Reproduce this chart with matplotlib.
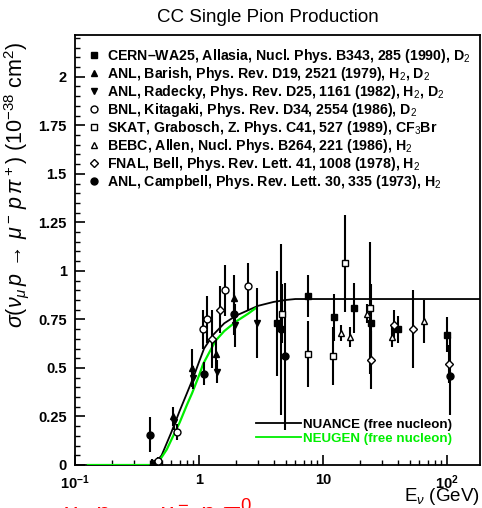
import numpy as np
import matplotlib
matplotlib.use("Agg")
import matplotlib.pyplot as plt
from matplotlib.lines import Line2D
from matplotlib.ticker import FixedLocator, NullFormatter

plt.rcParams['font.family'] = ['Liberation Sans', 'DejaVu Sans']
plt.rcParams['mathtext.fontset'] = 'custom'
plt.rcParams['mathtext.rm'] = 'Liberation Sans'
plt.rcParams['mathtext.it'] = 'Liberation Sans:italic'
plt.rcParams['mathtext.bf'] = 'Liberation Sans:bold'

# ---------------- data ----------------
cern_E = [4.3, 7.6, 12.2, 17.7, 24.6, 40.0, 100.0]
cern_y = [0.73, 0.87, 0.76, 0.81, 0.73, 0.70, 0.67]
cern_e = [0.27, 0.11, 0.12, 0.13, 0.20, 0.07, 0.09]

barish_E = [0.42, 0.62, 0.88, 1.38, 1.90]
barish_y = [0.01, 0.25, 0.50, 0.57, 0.86]
barish_e = [0.02, 0.05, 0.10, 0.08, 0.12]

radecky_E = [0.45, 0.63, 0.89, 1.40, 1.95, 2.96]
radecky_y = [0.01, 0.22, 0.45, 0.48, 0.72, 0.73]
radecky_e = [0.02, 0.04, 0.06, 0.06, 0.11, 0.18]

bnl_E = [0.47, 0.66, 1.08, 1.17, 1.63, 2.50]
bnl_y = [0.02, 0.17, 0.70, 0.75, 0.90, 0.92]
bnl_e = [0.02, 0.04, 0.10, 0.12, 0.13, 0.12]

skat_E = [4.7, 7.6, 12.0, 15.0, 24.0]
skat_y = [0.78, 0.57, 0.56, 1.04, 0.81]
skat_e = [0.15, 0.17, 0.15, 0.25, 0.34]

bebc_E = [14.0, 16.5, 22.5, 36.0, 65.0]
bebc_y = [0.68, 0.66, 0.78, 0.66, 0.74]
bebc_e = [0.04, 0.05, 0.05, 0.05, 0.11]

fnal_E = [1.28, 1.49, 24.5, 37.5, 53.0, 104.0]
fnal_y = [0.65, 0.80, 0.54, 0.72, 0.70, 0.52]
fnal_e = [0.15, 0.12, 0.15, 0.08, 0.20, 0.10]

campbell_E = [0.40, 1.10, 1.93, 4.6, 4.9, 105.0]
campbell_y = [0.155, 0.47, 0.78, 0.70, 0.56, 0.46]
campbell_e = [0.09, 0.06, 0.11, 0.44, 0.38, 0.20]

nuance_E = [0.43, 0.5, 0.6, 0.7, 0.8, 0.9, 1.0, 1.1, 1.3, 1.6, 2.0, 3.0, 4.0, 5.0, 6.0, 185.0]
nuance_y = [0.0, 0.05, 0.17, 0.28, 0.37, 0.45, 0.53, 0.60, 0.67, 0.73, 0.77, 0.82, 0.84, 0.85, 0.855, 0.855]

neugen_E = [0.127, 0.45, 0.5, 0.55, 0.62, 0.7, 0.8, 0.88, 1.0, 1.08, 1.36, 1.6, 2.0, 2.5, 2.9]
neugen_y = [0.0, 0.0, 0.04, 0.08, 0.15, 0.22, 0.31, 0.37, 0.46, 0.52, 0.64, 0.69, 0.74, 0.78, 0.81]

labels = [
    "CERN\u2013WA25, Allasia, Nucl. Phys. B343, 285 (1990), D$_2$",
    "ANL, Barish, Phys. Rev. D19, 2521 (1979), H$_2$, D$_2$",
    "ANL, Radecky, Phys. Rev. D25, 1161 (1982), H$_2$, D$_2$",
    "BNL, Kitagaki, Phys. Rev. D34, 2554 (1986), D$_2$",
    "SKAT, Grabosch, Z. Phys. C41, 527 (1989), CF$_3$Br",
    "BEBC, Allen, Nucl. Phys. B264, 221 (1986), H$_2$",
    "FNAL, Bell, Phys. Rev. Lett. 41, 1008 (1978), H$_2$",
    "ANL, Campbell, Phys. Rev. Lett. 30, 335 (1973), H$_2$",
]

series = [
    (cern_E, cern_y, cern_e, 's', True),
    (barish_E, barish_y, barish_e, '^', True),
    (radecky_E, radecky_y, radecky_e, 'v', True),
    (bnl_E, bnl_y, bnl_e, 'o', False),
    (skat_E, skat_y, skat_e, 's', False),
    (bebc_E, bebc_y, bebc_e, '^', False),
    (fnal_E, fnal_y, fnal_e, 'D', False),
    (campbell_E, campbell_y, campbell_e, 'o', True),
]

# ---------------- figure ----------------
fig = plt.figure(figsize=(4.82, 5.08), dpi=100)
ax = fig.add_axes([75/482, 43/508, 405/482, 430/508])

ax.plot(nuance_E, nuance_y, color='black', lw=1.3, zorder=2)
ax.plot(neugen_E, neugen_y, color='#00ee00', lw=1.6, zorder=3)

handles = []
for (E, y, e, m, filled), lab in zip(series, labels):
    ms = 5 if m != 'D' else 4
    ax.errorbar(E, y, yerr=e, fmt=m, color='black', ms=ms, mew=1.0,
                mfc='black' if filled else 'white', mec='black',
                elinewidth=1.5, capsize=0, zorder=4)
    handles.append(Line2D([], [], ls='none', marker=m, ms=ms, mew=1.0,
                          mfc='black' if filled else 'white', mec='black'))

leg = ax.legend(handles, labels, loc='upper left', bbox_to_anchor=(0.02, 0.985),
                frameon=False, prop={'size': 10.2, 'weight': 'bold'},
                handlelength=0.8, handletextpad=0.5,
                labelspacing=0.0, borderaxespad=0.0)

# model legend
mh = [Line2D([], [], color='black', lw=1.3), Line2D([], [], color='#00ee00', lw=1.3)]
leg2 = ax.legend(mh, ["NUANCE (free nucleon)", "NEUGEN (free nucleon)"],
                 loc='lower right', bbox_to_anchor=(0.945, 0.035), frameon=False,
                 prop={'size': 9.6, 'weight': 'bold'}, handlelength=3.4,
                 handletextpad=0.15, labelspacing=0.1, borderaxespad=0.0)
for t, c in zip(leg2.get_texts(), ['black', '#00ee00']):
    t.set_color(c)
ax.add_artist(leg)

ax.set_xscale('log')
ax.set_xlim(0.1, 185)
ax.set_ylim(0, 2.215)

ax.xaxis.set_major_locator(FixedLocator([0.1, 1, 10, 100]))
ax.set_xticklabels(["$\\mathbf{10^{-1}}$", "1", "10", "$\\mathbf{10^{2}}$"])
minx = [k * 10.0**d for d in (-1, 0, 1) for k in range(2, 10)]
ax.xaxis.set_minor_locator(FixedLocator(minx))
ax.xaxis.set_minor_formatter(NullFormatter())

ax.yaxis.set_major_locator(FixedLocator(np.arange(0, 2.01, 0.25)))
ax.set_yticklabels(["0", "0.25", "0.5", "0.75", "1", "1.25", "1.5", "1.75", "2"])
ax.yaxis.set_minor_locator(FixedLocator(np.arange(0, 2.21, 0.05)))

ax.tick_params(which='major', direction='in', length=7, width=1.2, labelsize=10.5,
               top=False, right=False, pad=6)
ax.tick_params(which='minor', direction='in', length=3.5, width=1.0, top=False, right=False)
for lab in ax.get_xticklabels() + ax.get_yticklabels():
    lab.set_fontweight('bold')
for s in ax.spines.values():
    s.set_linewidth(1.3)

fig.text(0.555, 0.966, "CC Single Pion Production", ha='center', va='center', fontsize=13.5)
fig.text(0.035, 0.636, r"$\sigma(\nu_\mu\, p\, \rightarrow\, \mu^-\, p\, \pi^+)\ (10^{-38}\ \mathrm{cm}^2)$",
         rotation=90, ha='center', va='center', fontsize=15.5)
fig.text(0.995, 0.022, r"E$_\nu$ (GeV)", ha='right', va='center', fontsize=13.5)
fig.text(0.13, -0.013, r"$\nu_\mu\ n\ \rightarrow\ \mu^-\ p\ \pi^0$", color='red',
         ha='left', va='center', fontsize=19)

fig.savefig("out.png", dpi=100)
